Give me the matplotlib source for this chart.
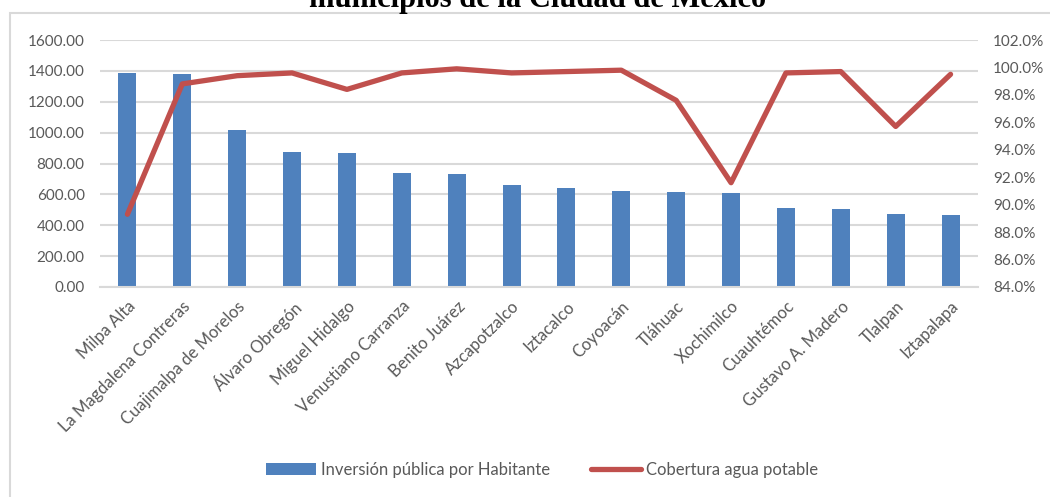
import matplotlib
matplotlib.use("Agg")
import matplotlib.pyplot as plt
import matplotlib.patches as mpatches
from matplotlib.ticker import FuncFormatter, MultipleLocator

alcaldias = ["Milpa Alta", "La Magdalena Contreras", "Cuajimalpa de Morelos",
             "Álvaro Obregón", "Miguel Hidalgo", "Venustiano Carranza",
             "Benito Juárez", "Azcapotzalco", "Iztacalco", "Coyoacán",
             "Tláhuac", "Xochimilco", "Cuauhtémoc", "Gustavo A. Madero",
             "Tlalpan", "Iztapalapa"]
inversion = [1386, 1380, 1017, 874, 866, 740, 734, 663, 639, 622,
             615, 607, 512, 503, 473, 466]
cobertura = [89.3, 98.8, 99.4, 99.6, 98.4, 99.6, 99.9, 99.6, 99.7, 99.8,
             97.6, 91.6, 99.6, 99.7, 95.7, 99.5]

azul = "#4F81BD"
rojo = "#C0504D"
gris = "#595959"
rejilla = "#D9D9D9"

plt.rcParams['font.family'] = ['Lato', 'DejaVu Sans']

fig = plt.figure(figsize=(10.5, 4.97), dpi=100)

# marco del gráfico
marco = mpatches.Rectangle((10 / 1050, -0.1), 1.2, 1 - 12.5 / 497 + 0.1,
                           transform=fig.transFigure, fill=False,
                           edgecolor=rejilla, linewidth=1.5)
fig.patches.append(marco)

# título (solo la última línea asoma arriba)
fig.text(538 / 1050, 1 - 6.5 / 497, "municipios de la Ciudad de México",
         ha="center", va="baseline", fontsize=22, fontweight="bold",
         family="Liberation Serif", color="#000000")

ax = fig.add_axes([100 / 1050, 1 - 287 / 497, 878 / 1050, 247 / 497])
x = range(len(alcaldias))
barras = ax.bar(x, inversion, width=0.33, color=azul, zorder=2,
                label="Inversión pública por Habitante")
ax.set_xlim(-0.5, len(alcaldias) - 0.5)
ax.set_ylim(0, 1600)
ax.yaxis.set_major_locator(MultipleLocator(200))
ax.yaxis.set_major_formatter(FuncFormatter(lambda v, p: f"{v:.2f}"))
ax.grid(axis="y", color=rejilla, linewidth=1.5, zorder=0)
ax.set_axisbelow(True)
for s in ["top", "left", "right"]:
    ax.spines[s].set_visible(False)
ax.spines["bottom"].set_color(rejilla)
ax.spines["bottom"].set_linewidth(1.5)
ax.set_xticks(list(x))
ax.set_xticklabels(alcaldias, rotation=45, ha="right", rotation_mode="anchor")
ax.tick_params(axis="y", length=0, pad=11, labelsize=11, colors=gris)
ax.tick_params(axis="x", length=0, pad=8, labelsize=12, colors=gris)

ax2 = ax.twinx()
linea, = ax2.plot(x, cobertura, color=rojo, linewidth=3.8,
                  solid_capstyle="round", solid_joinstyle="round",
                  label="Cobertura agua potable")
ax2.set_ylim(84, 102)
ax2.yaxis.set_major_locator(MultipleLocator(2))
ax2.yaxis.set_major_formatter(FuncFormatter(lambda v, p: f"{v:.1f}%"))
ax2.tick_params(axis="y", length=0, pad=11, labelsize=11, colors=gris)
for s in ax2.spines.values():
    s.set_visible(False)

fig.legend([barras, linea], ["Inversión pública por Habitante", "Cobertura agua potable"],
           loc="center", bbox_to_anchor=(542 / 1050, 1 - 470 / 497), ncol=2,
           frameon=False, fontsize=12, labelcolor=gris, handlelength=3.0,
           handletextpad=0.3, columnspacing=2.4)

fig.savefig("out.png", dpi=100)
